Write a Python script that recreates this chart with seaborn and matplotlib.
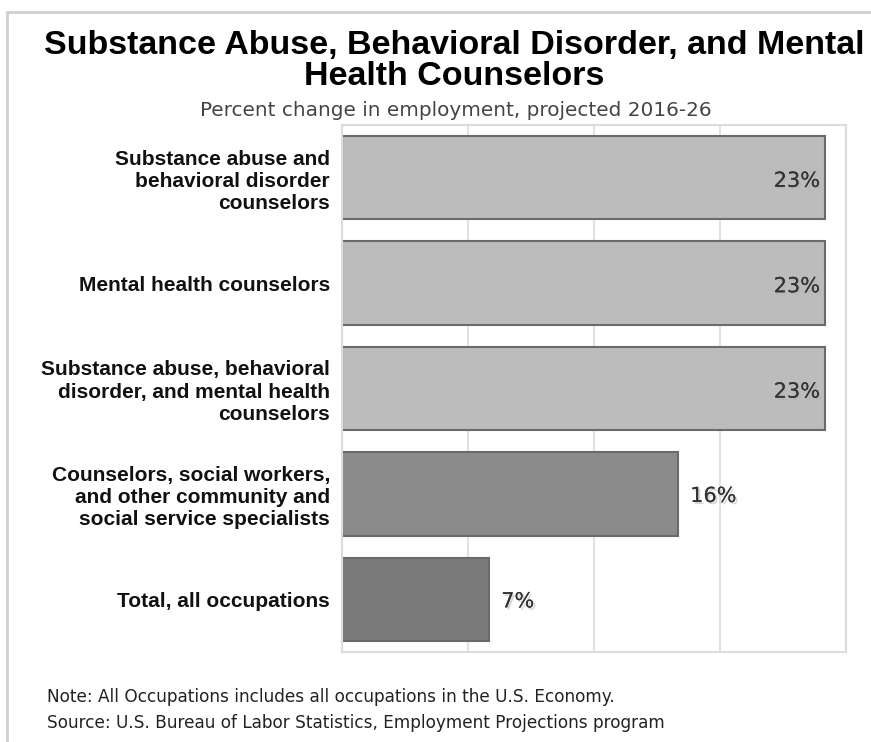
import matplotlib
matplotlib.use("Agg")
import matplotlib.pyplot as plt
import matplotlib.patheffects as pe
from matplotlib.patches import Rectangle
import seaborn as sns
import pandas as pd

categories = [
    "Substance abuse and\nbehavioral disorder\ncounselors",
    "Mental health counselors",
    "Substance abuse, behavioral\ndisorder, and mental health\ncounselors",
    "Counselors, social workers,\nand other community and\nsocial service specialists",
    "Total, all occupations",
]
values = [23, 23, 23, 16, 7]
value_labels = ["23%", "23%", "23%", "16%", "7%"]
bar_colors = ["#bcbcbc", "#bcbcbc", "#bcbcbc", "#8b8b8b", "#7a7a7a"]
x_ticks = [0, 6, 12, 18, 24]

title = "Substance Abuse, Behavioral Disorder, and Mental\nHealth Counselors"
subtitle = "Percent change in employment, projected 2016-26"
note = "Note: All Occupations includes all occupations in the U.S. Economy."
source = "Source: U.S. Bureau of Labor Statistics, Employment Projections program"

df = pd.DataFrame({"category": categories, "value": values})

sns.set_theme(style="white")
plt.rcParams["font.family"] = ["DejaVu Sans"]

fig = plt.figure(figsize=(8.71, 7.42), dpi=100)
ax = fig.add_axes([342 / 871, 1 - 652 / 742, (846 - 342) / 871, (652 - 125) / 742])

sns.barplot(data=df, y="category", x="value", hue="category", palette=bar_colors,
            legend=False, orient="h", width=0.79, edgecolor="#6a6a6a", linewidth=1.5,
            saturation=1, ax=ax)

ax.set_xlim(0, 24)
ax.set_ylim(4.5, -0.5)
ax.set_xticks(x_ticks)
ax.set_xticklabels([])
ax.tick_params(axis="both", length=0)
ax.grid(axis="x", color="#e2e2e2", linewidth=1.5, zorder=0)
ax.set_axisbelow(True)
ax.set_xlabel("")
ax.set_ylabel("")
for s in ax.spines.values():
    s.set_color("#dcdcdc")
    s.set_linewidth(1.5)
    s.set_visible(True)

ax.set_yticks(range(len(categories)))
ax.set_yticklabels(categories, fontfamily="Liberation Sans", fontweight="bold",
                   fontsize=15, color="#111111", linespacing=1.22)
ax.tick_params(axis="y", pad=8.6)

shadow = [pe.withSimplePatchShadow(offset=(1.5, -1.5), shadow_rgbFace="#b0b0b0", alpha=0.5), pe.Normal()]
for i, (v, lab) in enumerate(zip(values, value_labels)):
    if v >= 20:
        ax.text(v - 0.24, i + 0.03, lab, ha="right", va="center", fontsize=15,
                color="#333333", path_effects=shadow)
    else:
        ax.text(v + 0.58, i + 0.02, lab, ha="left", va="center", fontsize=15,
                color="#333333", path_effects=shadow)

fig.text(454 / 871, 1 - 61 / 742, title, ha="center", va="center",
         fontfamily="Liberation Sans", fontweight="bold", fontsize=24.5,
         color="#000000", linespacing=1.0)
fig.text(456 / 871, 1 - 110 / 742, subtitle, ha="center", va="center",
         fontsize=14.4, color="#444444")
fig.text(47 / 871, 1 - 697 / 742, note, ha="left", va="center",
         fontsize=12.15, color="#222222")
fig.text(47 / 871, 1 - 723 / 742, source, ha="left", va="center",
         fontsize=12.15, color="#222222")

fig.patches.append(Rectangle((7 / 871, -0.05), 1.2, 1 - 12 / 742 + 0.05,
                             transform=fig.transFigure, fill=False,
                             edgecolor="#d0d0d0", linewidth=2, zorder=0))

fig.savefig("out.png", dpi=100, facecolor="white")
